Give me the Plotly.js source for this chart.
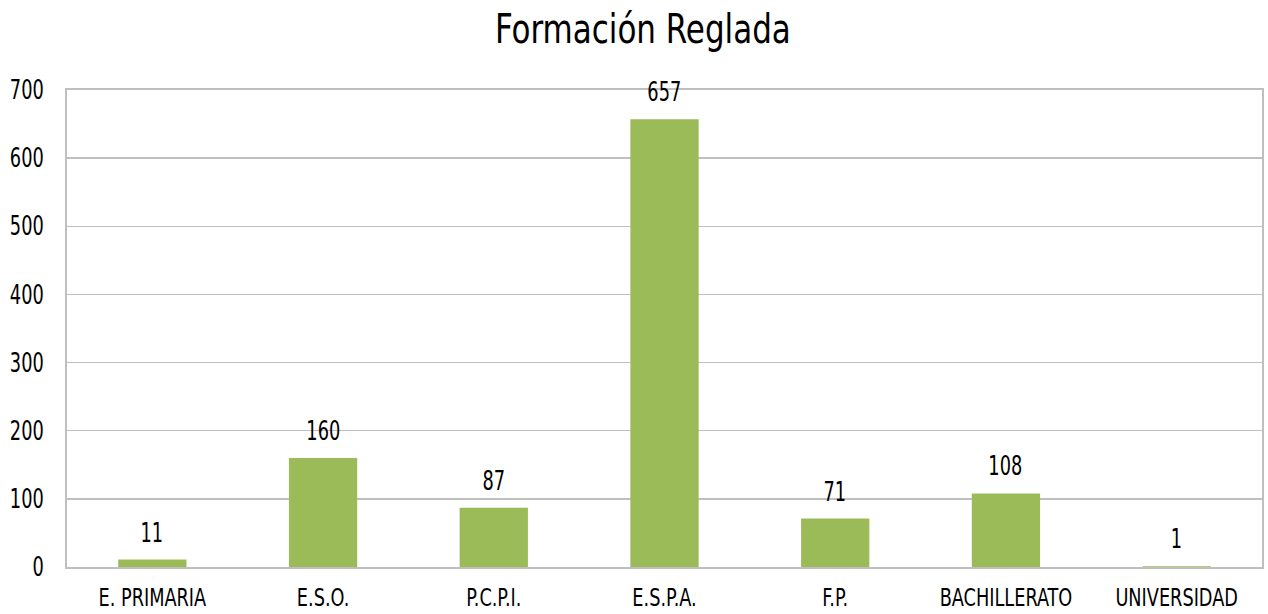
<!DOCTYPE html>
<html>
<head>
<meta charset="utf-8">
<script src="https://cdn.plot.ly/plotly-3.0.1.min.js"></script>
<style>html,body{margin:0;padding:0;background:#fff}#chart{width:1268px;height:614px}</style>
</head>
<body>
<div id="chart"></div>
<script>
var categories = ["E. PRIMARIA", "E.S.O.", "P.C.P.I.", "E.S.P.A.", "F.P.", "BACHILLERATO", "UNIVERSIDAD"];
var values = [11, 160, 87, 657, 71, 108, 1];
var yTicks = [0, 100, 200, 300, 400, 500, 600, 700];

var FONT = "'DejaVu Sans Condensed', 'Liberation Sans Narrow', sans-serif";

var annotations = categories.map(function(c, i) {
  return {
    x: c, y: values[i], xref: 'x', yref: 'y',
    text: String(values[i]), showarrow: false,
    yanchor: 'bottom', yshift: 10,
    font: {family: FONT, size: 26, color: '#000'}
  };
});

var data = [{
  type: 'bar',
  x: categories,
  y: values,
  marker: {color: '#9BBB59'},
  hoverinfo: 'x+y'
}];

var layout = {
  width: 1268, height: 614,
  margin: {l: 67, r: 6, t: 90, b: 47},
  paper_bgcolor: '#fff', plot_bgcolor: '#fff',
  bargap: 0.6,
  showlegend: false,
  title: {text: 'Formación Reglada', x: 0.507, xanchor: 'center', y: 0.953, yanchor: 'middle',
          font: {family: FONT, size: 41, color: '#000'}},
  font: {family: FONT, size: 26, color: '#000'},
  xaxis: {
    showline: true, linecolor: '#bfbfbf', linewidth: 2, mirror: true,
    showgrid: false, ticks: 'outside', ticklen: 8, tickcolor: 'rgba(0,0,0,0)',
    tickfont: {family: FONT, size: 24, color: '#000'}
  },
  yaxis: {
    range: [0, 700], tickvals: yTicks, ticktext: yTicks.map(String),
    showline: true, linecolor: '#bfbfbf', linewidth: 2, mirror: true,
    showgrid: true, gridcolor: '#bfbfbf', gridwidth: 1.5,
    zeroline: false, ticks: 'outside', ticklen: 16, tickcolor: 'rgba(0,0,0,0)',
    tickfont: {family: FONT, size: 26, color: '#000'}
  },
  annotations: annotations
};

function condense() {
  var texts = document.querySelectorAll('#chart svg text');
  texts.forEach(function(el) {
    var f = 0.76;
    if (el.classList.contains('gtitle')) f = 0.84;
    else if (el.closest('.xtick')) f = 0.82;
    var w = el.getComputedTextLength();
    if (w > 0) {
      el.setAttribute('textLength', (w * f).toFixed(2));
      el.setAttribute('lengthAdjust', 'spacingAndGlyphs');
    }
  });
}

Plotly.newPlot('chart', data, layout, {displayModeBar: false, staticPlot: true}).then(condense);
</script>
</body>
</html>
